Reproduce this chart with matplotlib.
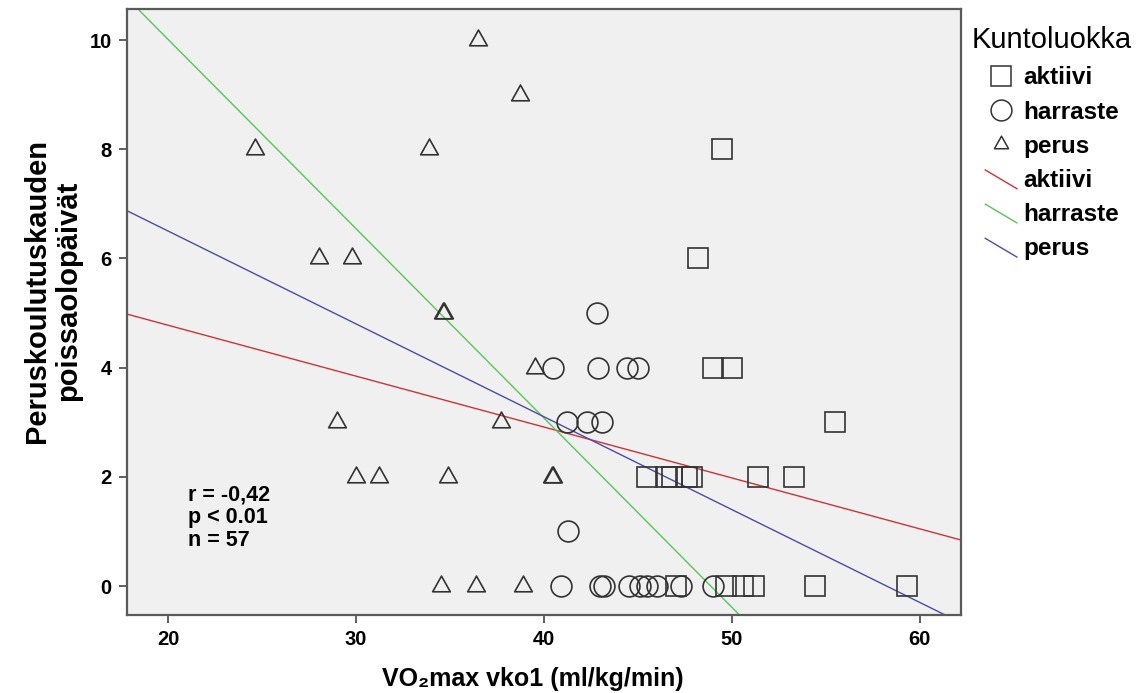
import numpy as np
import matplotlib
matplotlib.use('Agg')
import matplotlib.pyplot as plt
from matplotlib.lines import Line2D
from matplotlib.path import Path
from matplotlib.legend_handler import HandlerLine2D

plt.rcParams['font.family'] = ['Liberation Sans', 'DejaVu Sans']

# VO2max (x) and absence days (y) per fitness class
aktiivi_x = [49.5, 48.2, 49.0, 50.0, 55.5, 45.5, 46.5, 46.8, 47.6, 47.9, 51.4, 53.3,
             47.0, 49.7, 50.6, 51.2, 54.4, 59.3]
aktiivi_y = [8, 6, 4, 4, 3, 2, 2, 2, 2, 2, 2, 2,
             0, 0, 0, 0, 0, 0]

harraste_x = [42.8, 40.5, 42.9, 44.4, 45.0, 41.2, 42.3, 43.1, 41.3,
              40.9, 43.0, 43.2, 44.5, 45.1, 45.5, 46.0, 47.3, 49.0]
harraste_y = [5, 4, 4, 4, 4, 3, 3, 3, 1,
              0, 0, 0, 0, 0, 0, 0, 0, 0]

perus_x = [36.5, 38.7, 24.6, 33.9, 28.0, 29.8, 34.6, 34.7, 39.5, 29.0, 37.7,
           30.0, 31.2, 34.9, 40.4, 40.5, 34.5, 36.4, 38.9]
perus_y = [10, 9, 8, 8, 6, 6, 5, 5, 4, 3, 3,
           2, 2, 2, 2, 2, 0, 0, 0]

# regression lines: y = intercept + slope * x
groups = ['aktiivi', 'harraste', 'perus']
line_intercepts = [6.64, 16.94, 9.90]
line_slopes = [-0.0932, -0.3466, -0.170]
line_colors = ['#cc3535', '#55c855', '#4c4ca8']

stats_text = 'r = -0,42\np < 0.01\nn = 57'

x_ticks = [20, 30, 40, 50, 60]
y_ticks = [0, 2, 4, 6, 8, 10]

tri = Path([(-1, -0.6), (1, -0.6), (0, 1.18), (-1, -0.6)], closed=True)
edge = '#333333'


class DiagonalHandler(HandlerLine2D):
    def create_artists(self, legend, orig_handle, xdescent, ydescent,
                       width, height, fontsize, trans):
        line = Line2D([-xdescent, width - xdescent],
                      [height * 1.0 - ydescent, -0.1 * height - ydescent])
        self.update_prop(line, orig_handle, legend)
        line.set_transform(trans)
        return [line]


fig = plt.figure(figsize=(11.38, 6.93), dpi=100)
ax = fig.add_axes([0.1116, 0.1126, 0.7329, 0.8737], facecolor='#f0f0f0')

xs = np.array([17.8, 62.2])
for b, m, c in zip(line_intercepts, line_slopes, line_colors):
    ax.plot(xs, b + m * xs, color=c, lw=1.0, zorder=2)

mk = dict(ls='none', mfc='none', mec=edge, mew=1.2, zorder=3)
ax.plot(aktiivi_x, aktiivi_y, marker='s', ms=15, **mk)
ax.plot(harraste_x, harraste_y, marker='o', ms=15, **mk)
ax.plot(perus_x, perus_y, marker=tri, ms=15, **mk)

ax.set_xlim(17.8, 62.2)
ax.set_ylim(-0.53, 10.56)
ax.set_xticks(x_ticks)
ax.set_yticks(y_ticks)
ax.tick_params(direction='out', length=6, width=1.2, color='#444444', pad=5,
               labelsize=14.5)
for lab in ax.get_xticklabels() + ax.get_yticklabels():
    lab.set_fontweight('bold')
for sp in ax.spines.values():
    sp.set_color('#5a5a5a')
    sp.set_linewidth(1.6)

ax.set_xlabel('VO\u2082max vko1 (ml/kg/min)', fontsize=18, fontweight='bold')
ax.xaxis.set_label_coords(0.487, -0.086)
ax.set_ylabel('Peruskoulutuskauden\npoissaolopäivät', fontsize=21,
              fontweight='bold', linespacing=1.15)
ax.yaxis.set_label_coords(-0.054, 0.535)

ax.text(0.073, 0.216, stats_text, transform=ax.transAxes, ha='left', va='top',
        fontsize=15.5, fontweight='bold', linespacing=1.12)

# legend
ax.text(1.013, 0.9496, 'Kuntoluokka', transform=ax.transAxes, ha='left',
        va='center', fontsize=21)
handles = [
    Line2D([], [], ls='none', marker='s', ms=15, mfc='none', mec=edge, mew=1.1),
    Line2D([], [], ls='none', marker='o', ms=15, mfc='none', mec=edge, mew=1.1),
    Line2D([], [], ls='none', marker=tri, ms=12, mfc='none', mec=edge, mew=1.1),
]
handles += [Line2D([], [], color=c, lw=1.0) for c in line_colors]
labels = groups + groups
hmap = {h: DiagonalHandler() for h in handles[3:]}
leg = ax.legend(handles, labels, loc='upper left', bbox_to_anchor=(1.029, 0.906),
                frameon=False, borderpad=0, borderaxespad=0, handlelength=1.3,
                handletextpad=0.25, labelspacing=0.46, handler_map=hmap,
                prop={'size': 17.5, 'weight': 'bold'})

fig.savefig('out.png', dpi=100)
